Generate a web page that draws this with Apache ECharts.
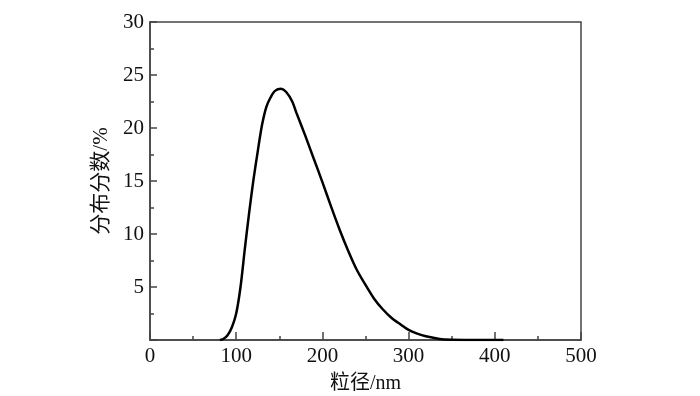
<!DOCTYPE html>
<html>
<head>
<meta charset="utf-8">
<script src="https://cdn.jsdelivr.net/npm/echarts@6/dist/echarts.min.js"></script>
<style>
  html, body { margin: 0; padding: 0; background: #fff; }
  #chart { width: 700px; height: 396px; }
</style>
</head>
<body>
<div id="chart"></div>
<script>
// particle size (nm) and distribution fraction (%)
const sizeNm = [81, 85, 90, 95, 100, 105, 110, 115, 120, 125, 130, 135, 140, 145, 152, 158, 165, 170, 180, 190, 200, 210, 220, 230, 240, 250, 260, 270, 280, 290, 300, 310, 320, 336, 350, 380, 410];
const fraction = [0, 0.1, 0.45, 1.2, 2.5, 5.0, 8.6, 12.0, 15.1, 17.8, 20.3, 22.0, 22.9, 23.5, 23.7, 23.4, 22.5, 21.4, 19.3, 17.1, 14.9, 12.6, 10.4, 8.4, 6.6, 5.2, 3.9, 2.9, 2.1, 1.5, 0.95, 0.6, 0.35, 0.1, 0.03, 0, 0];

const xLabels = ["0", "100", "200", "300", "400", "500"];
const yLabels = ["5", "10", "15", "20", "25", "30"];

const chart = echarts.init(document.getElementById("chart"));
const serif = "'Liberation Serif', 'Times New Roman', serif";
const cjk = "'Liberation Serif', 'Noto Sans CJK SC', serif";
const axisColor = "#444";

chart.setOption({
  animation: false,
  grid: {
    left: 150, right: 119, top: 22, bottom: 56,
    outerBoundsMode: "none",
    containLabel: false,
    show: true, borderColor: axisColor, borderWidth: 1.5,
  },
  xAxis: {
    type: "value",
    min: 0, max: 500, interval: 100,
    name: "粒径/nm",
    nameLocation: "middle",
    nameGap: 34,
    nameTextStyle: { fontFamily: cjk, fontSize: 20, color: "#111" },
    axisLine: { show: true, lineStyle: { color: axisColor, width: 1.5 } },
    axisTick: { inside: true, length: 8, lineStyle: { color: axisColor, width: 1.5 } },
    minorTick: { show: true, splitNumber: 2, length: 4, lineStyle: { color: axisColor, width: 1.5 } },
    axisLabel: {
      fontFamily: serif, fontSize: 21, color: "#111", margin: 6,
      formatter: (v) => xLabels.includes(String(v)) ? String(v) : "",
    },
    splitLine: { show: false },
  },
  yAxis: {
    type: "value",
    min: 0, max: 30, interval: 5,
    name: "分布分数/%",
    nameLocation: "middle",
    nameGap: 37,
    nameRotate: 90,
    nameTextStyle: { fontFamily: cjk, fontSize: 21, color: "#111" },
    axisLine: { show: true, lineStyle: { color: axisColor, width: 1.5 } },
    axisTick: { inside: true, length: 7, lineStyle: { color: axisColor, width: 1.5 } },
    minorTick: { show: true, splitNumber: 2, length: 4, lineStyle: { color: axisColor, width: 1.5 } },
    axisLabel: {
      fontFamily: serif, fontSize: 21, color: "#111", margin: 6,
      formatter: (v) => yLabels.includes(String(v)) ? String(v) : "",
    },
    splitLine: { show: false },
  },
  series: [{
    type: "line",
    data: sizeNm.map((x, i) => [x, fraction[i]]),
    smooth: 0.3,
    symbol: "none",
    lineStyle: { color: "#000", width: 2.5 },
  }],
});
</script>
</body>
</html>
